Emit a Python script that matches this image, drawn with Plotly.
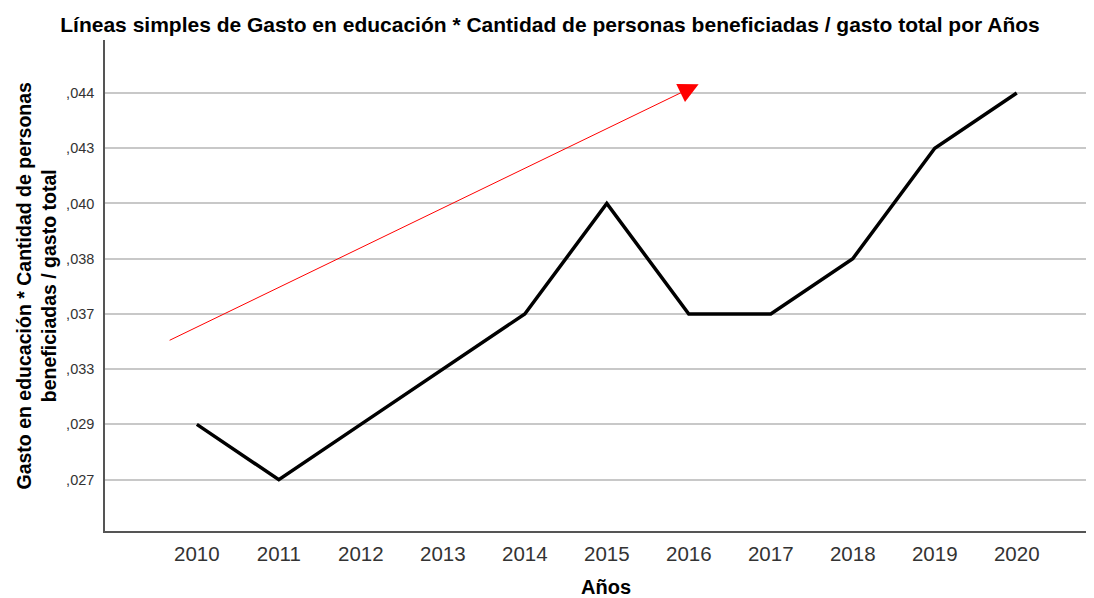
import plotly.graph_objects as go

years = ["2010", "2011", "2012", "2013", "2014", "2015", "2016", "2017", "2018", "2019", "2020"]
y_categories = [",027", ",029", ",033", ",037", ",038", ",040", ",043", ",044"]
values = [",029", ",027", ",029", ",033", ",037", ",040", ",037", ",037", ",038", ",043", ",044"]

# trend arrow (category-index coordinates)
arrow_start = (-0.35, 2.51)
arrow_end = (6.12, 7.16)

font = "Liberation Sans, Arial, sans-serif"

fig = go.Figure()
fig.add_trace(go.Scatter(
    x=years, y=values, mode="lines",
    line=dict(color="black", width=3.5),
    hoverinfo="skip", showlegend=False,
))

fig.add_annotation(
    x=arrow_end[0], y=arrow_end[1], ax=arrow_start[0], ay=arrow_start[1],
    xref="x", yref="y", axref="x", ayref="y",
    showarrow=True, arrowhead=2, arrowsize=4, arrowwidth=1,
    arrowcolor="red", text="",
)

# axis titles
fig.add_annotation(
    text="Años", xref="paper", yref="paper", x=0.5, xshift=7, y=0, yshift=-56,
    xanchor="center", yanchor="middle", showarrow=False,
    font=dict(family=font, size=20, color="black", weight="bold"),
)
fig.add_annotation(
    text="Gasto en educación * Cantidad de personas<br>beneficiadas / gasto total",
    xref="paper", yref="paper", x=0, xshift=-69, y=0.5,
    xanchor="center", yanchor="middle", showarrow=False, textangle=-90,
    font=dict(family=font, size=19.5, color="black", weight="bold"),
)

fig.update_layout(
    width=1086, height=590,
    margin=dict(l=97, r=1, t=32, b=67),
    paper_bgcolor="white", plot_bgcolor="white",
    title=dict(
        text="Líneas simples de Gasto en educación * Cantidad de personas beneficiadas / gasto total por Años",
        x=542 / 1086, xanchor="center", y=1 - 17 / 590, yanchor="middle",
        font=dict(family=font, size=21, color="black", weight="bold"),
    ),
    xaxis=dict(
        type="category", categoryorder="array", categoryarray=years,
        range=[-1.12, 10.93], automargin=False,
        showgrid=False, showline=True, linecolor="#555", linewidth=1.5,
        ticks="", ticklabelstandoff=4,
        tickfont=dict(family=font, size=20.5, color="#333"),
        zeroline=False,
    ),
    yaxis=dict(
        type="category", categoryorder="array", categoryarray=y_categories,
        range=[-0.93, 7.96], automargin=False,
        showgrid=True, gridcolor="#c8c8c8", gridwidth=2,
        showline=True, linecolor="#555", linewidth=1.5,
        ticks="", ticklabelstandoff=6,
        tickfont=dict(family=font, size=14.5, color="#333"),
        zeroline=False,
    ),
)

fig.write_html("out.html")
